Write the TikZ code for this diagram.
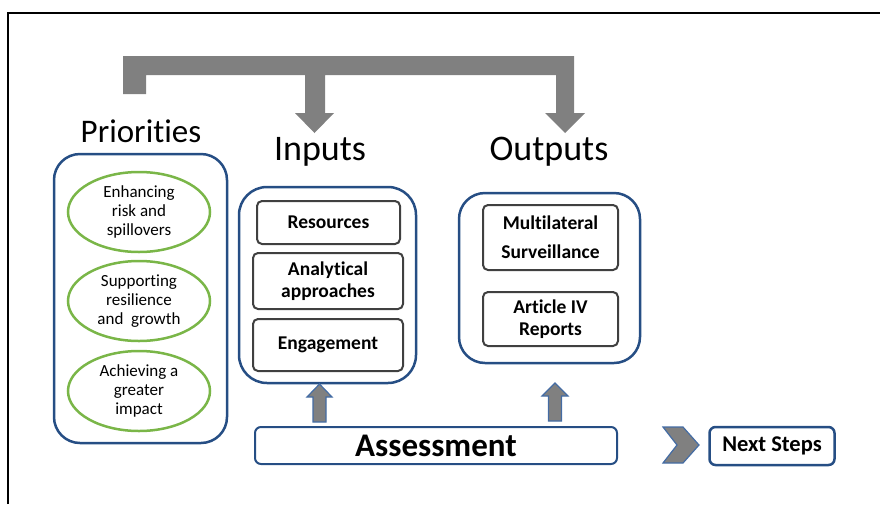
\documentclass[tikz,border=0pt]{standalone}
\usepackage{fontspec}
\setmainfont{Carlito}[RawFeature=-liga]
\usepackage{tikz}
\usetikzlibrary{positioning}
\usetikzlibrary{shapes.geometric}

\definecolor{frameblue}{RGB}{38,78,132}
\definecolor{ovalgreen}{RGB}{122,182,72}
\definecolor{boxgrey}{RGB}{64,64,64}
\definecolor{flowgrey}{RGB}{128,128,128}
\definecolor{arrowblue}{RGB}{68,108,164}

\tikzset{
  bluebox/.style={draw=frameblue, line width=2.5pt, rounded corners=#1, inner sep=0pt},
  bluebox/.default=26pt,
  itembox/.style={draw=boxgrey, line width=2pt, rounded corners=5pt, inner sep=0pt,
    align=center, font=\fontsize{19.5}{22}\selectfont\bfseries},
  oval/.style={ellipse, draw=ovalgreen, line width=2.5pt, inner sep=0pt,
    minimum width=142pt, minimum height=80pt, align=center,
    font=\fontsize{17}{19}\selectfont},
  title/.style={anchor=base, inner sep=0pt, font=\fontsize{#1}{#1}\selectfont},
  blockarrow/.style={fill=flowgrey, draw=arrowblue, line width=1.2pt, line join=miter}
}

\begin{document}
\begin{tikzpicture}[x=1pt,y=-1pt]
\useasboundingbox (0,0) rectangle (880,504);
\draw[line width=2pt] (8,504) -- (8,13) -- (880,13);% page frame

% column titles
\node[title=33] (priotitle) at (141,142) {Priorities};
\node[title=36] (inptitle) at (320,160) {Inputs};
\node[title=36] (outtitle) at (549,160) {Outputs};

% grey bracket feeding the two columns
\fill[flowgrey] (123,94) -- (123,56) -- (574,56) -- (574,113) -- (585,113)
  -- (565,133) -- (545,113) -- (556,113) -- (556,75) -- (325,75) -- (325,113)
  -- (334,113) -- (314.5,133) -- (295,113) -- (305,113) -- (305,75) -- (146,75)
  -- (146,94) -- cycle;

% priorities
\node[bluebox, minimum width=173pt, minimum height=289pt] (priobox) at (140.5,298.5) {};
\node[oval] (risk) at (139,212) {Enhancing\\risk and\\spillovers};
\node[oval] (resil) at (139,301) {Supporting\\resilience\\and~~growth};
\node[oval] (impact) at (139,391) {Achieving a\\greater\\impact};

% inputs
\node[bluebox=28pt, minimum width=177pt, minimum height=196pt] (inpbox) at (327.5,285) {};
\node[itembox, minimum width=143pt, minimum height=43pt] (resources) at (328.5,222.5) {Resources};
\node[itembox, minimum width=150pt, minimum height=56pt] (analytic) at (328,281) {Analytical\\approaches};
\node[itembox, minimum width=150pt, minimum height=52pt] (engage) at (328,345) {Engagement};

% outputs
\node[bluebox, minimum width=181pt, minimum height=170pt] (outbox) at (549.5,278) {};
\node[itembox, minimum width=135pt, minimum height=65pt] (multi) at (550.5,237.5) {Multilateral\\[7pt]Surveillance};
\node[itembox, minimum width=135pt, minimum height=54pt] (artfour) at (550.5,319) {Article IV\\Reports};

% assessment and next steps
\node[bluebox=6pt, line width=2pt, minimum width=362pt, minimum height=37pt,
  font=\fontsize{33}{33}\selectfont\bfseries] (assess) at (436,445.5) {Assessment};
\node[bluebox=6pt, minimum width=125pt, minimum height=38pt,
  font=\fontsize{22.5}{22.5}\selectfont\bfseries] (next) at (772,446) {Next Steps};

% up arrows from the assessment
\draw[blockarrow] (313,422) -- (313,397) -- (307,397) -- (319.5,384) -- (332,397)
  -- (326,397) -- (326,422) -- cycle;
\draw[blockarrow] (548.5,421) -- (548.5,396) -- (542,396) -- (555,383) -- (568,396)
  -- (561.5,396) -- (561.5,421) -- cycle;

% chevron before next steps
\draw[blockarrow] (663,427) -- (683,427) -- (699,445) -- (683,463) -- (663,463)
  -- (677,445) -- cycle;
\end{tikzpicture}
\end{document}
